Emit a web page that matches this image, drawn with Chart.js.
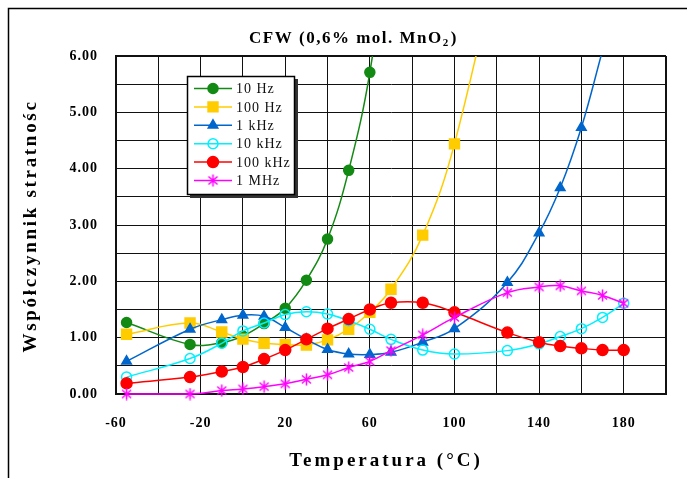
<!DOCTYPE html>
<html>
<head>
<meta charset="utf-8">
<script src="https://cdn.jsdelivr.net/npm/chart.js@4"></script>
<style>
  body { margin: 0; background: #fff; }
  #wrap { width: 687px; height: 478px; }
</style>
</head>
<body>
<div id="wrap"><canvas id="myChart"></canvas></div>
<script>
// temperatures (°C) shared by all series; values past the chart top are clipped
const temps = [-55, -25, -10, 0, 10, 20, 30, 40, 50, 60, 70, 85, 100, 125, 140, 150, 160, 170, 180];
const hz10 = [1.27, 0.88, 0.91, 1.03, 1.25, 1.52, 2.02, 2.75, 3.97, 5.71, 8.5];
const hz100 = [1.06, 1.26, 1.10, 0.975, 0.90, 0.88, 0.87, 0.96, 1.15, 1.45, 1.86, 2.82, 4.44, 8.5];
const khz1 = [0.58, 1.15, 1.32, 1.40, 1.38, 1.18, 0.97, 0.79, 0.71, 0.70, 0.74, 0.92, 1.16, 1.98, 2.86, 3.66, 4.73, 6.1];
const khz10 = [0.30, 0.63, 0.90, 1.12, 1.26, 1.41, 1.46, 1.42, 1.30, 1.15, 0.97, 0.78, 0.71, 0.77, 0.89, 1.02, 1.16, 1.36, 1.61];
const khz100 = [0.19, 0.30, 0.40, 0.48, 0.62, 0.78, 0.97, 1.16, 1.33, 1.50, 1.62, 1.62, 1.45, 1.09, 0.92, 0.85, 0.81, 0.78, 0.78];
const mhz1 = [0.00, 0.00, 0.06, 0.09, 0.13, 0.18, 0.26, 0.34, 0.47, 0.58, 0.77, 1.05, 1.36, 1.80, 1.90, 1.92, 1.83, 1.75, 1.61];

const seriesLabels = ['10 Hz', '100 Hz', '1 kHz', '10 kHz', '100 kHz', '1 MHz'];
const xTickLabels = [-60, -20, 20, 60, 100, 140, 180];
const yTickLabels = [0, 1, 2, 3, 4, 5, 6];
const xTitle = 'Temperatura (°C)';
const yTitle = 'Współczynnik stratnośc';

const serif = '"Liberation Serif", "Times New Roman", serif';

function toPoints(values) {
    return values.map((v, i) => ({ x: temps[i], y: v }));
}

// excel style asterisk marker
function makeAsterisk(color) {
    const c = document.createElement('canvas');
    c.width = 13;
    c.height = 13;
    const g = c.getContext('2d');
    g.strokeStyle = color;
    g.lineWidth = 1.5;
    g.beginPath();
    g.moveTo(6.5, 0.5); g.lineTo(6.5, 12.5);
    g.moveTo(2, 2.5); g.lineTo(11, 10.5);
    g.moveTo(11, 2.5); g.lineTo(2, 10.5);
    g.stroke();
    return c;
}
const asterisk = makeAsterisk('#ff00ff');

function series(label, values, color, style, radius, fill) {
    return {
        label: label,
        data: toPoints(values),
        borderColor: color,
        borderWidth: 1.5,
        pointStyle: style,
        pointRadius: radius,
        pointBackgroundColor: fill,
        pointBorderColor: color,
        pointBorderWidth: 1.5,
        tension: 0.4,
        clip: { left: 12, top: 0, right: 12, bottom: 12 }
    };
}

const datasets = [
    series(seriesLabels[0], hz10, '#138a13', 'circle', 5, '#138a13'),
    series(seriesLabels[1], hz100, '#ffcc00', 'rect', 7, '#ffcc00'),
    series(seriesLabels[2], khz1, '#0066cc', 'triangle', 5.5, '#0066cc'),
    series(seriesLabels[3], khz10, '#00f0ff', 'circle', 5, 'rgba(0,0,0,0)'),
    series(seriesLabels[4], khz100, '#ff0000', 'circle', 5.5, '#ff0000'),
    series(seriesLabels[5], mhz1, '#ff00ff', asterisk, 6, '#ff00ff')
];
// later series on top, like the original
datasets.forEach((ds, i) => { ds.order = datasets.length - i; });

function drawMarker(ctx, ds, x, y) {
    const r = ds.pointRadius;
    ctx.fillStyle = ds.pointBackgroundColor;
    ctx.strokeStyle = ds.pointBorderColor;
    ctx.lineWidth = ds.pointBorderWidth;
    if (ds.pointStyle instanceof HTMLCanvasElement) {
        ctx.drawImage(ds.pointStyle, x - ds.pointStyle.width / 2, y - ds.pointStyle.height / 2);
        return;
    }
    ctx.beginPath();
    if (ds.pointStyle === 'rect') {
        const s = r * Math.SQRT1_2;
        ctx.rect(x - s, y - s, 2 * s, 2 * s);
    } else if (ds.pointStyle === 'triangle') {
        ctx.moveTo(x, y - r);
        ctx.lineTo(x + Math.sin(2 * Math.PI / 3) * r, y + r / 2);
        ctx.lineTo(x - Math.sin(2 * Math.PI / 3) * r, y + r / 2);
        ctx.closePath();
    } else {
        ctx.arc(x, y, r, 0, Math.PI * 2);
    }
    ctx.fill();
    ctx.stroke();
}

const framePlugin = {
    id: 'frame',
    beforeDraw(chart) {
        const ctx = chart.ctx;
        ctx.save();
        ctx.fillStyle = '#fff';
        ctx.fillRect(0, 0, chart.width, chart.height);
        ctx.strokeStyle = '#000';
        ctx.lineWidth = 1.5;
        ctx.strokeRect(8.5, 8.5, 900, 900);
        ctx.restore();
        ctx.letterSpacing = '1px';
    }
};

// chart title, with subscript 2, and the two axis titles (letter spaced)
const titlePlugin = {
    id: 'titles',
    afterDraw(chart) {
        const ctx = chart.ctx;
        ctx.save();
        ctx.fillStyle = '#000';
        ctx.textBaseline = 'alphabetic';
        ctx.letterSpacing = '1.5px';
        ctx.font = 'bold 17px ' + serif;
        const main = 'CFW (0,6% mol. MnO';
        const wMain = ctx.measureText(main).width;
        ctx.font = 'bold 11px ' + serif;
        const wSub = ctx.measureText('2').width;
        ctx.font = 'bold 17px ' + serif;
        const wEnd = ctx.measureText(')').width;
        let x = 353 - (wMain + wSub + wEnd) / 2;
        const base = 43;
        ctx.fillText(main, x, base);
        x += wMain;
        ctx.font = 'bold 11px ' + serif;
        ctx.fillText('2', x, base + 3);
        x += wSub + 1;
        ctx.font = 'bold 17px ' + serif;
        ctx.fillText(')', x, base);

        ctx.font = 'bold 19px ' + serif;
        ctx.textAlign = 'center';
        ctx.textBaseline = 'middle';
        ctx.letterSpacing = '3px';
        ctx.fillText(xTitle, 386, 461);
        ctx.letterSpacing = '2.7px';
        ctx.translate(31, 226);
        ctx.rotate(-Math.PI / 2);
        ctx.fillText(yTitle, 0, 0);
        ctx.restore();
    }
};

const legendPlugin = {
    id: 'boxLegend',
    afterDraw(chart) {
        const ctx = chart.ctx;
        ctx.save();
        ctx.fillStyle = '#333';
        ctx.fillRect(190, 79, 108, 119);
        ctx.fillStyle = '#fff';
        ctx.fillRect(187, 76, 108, 119);
        ctx.strokeStyle = '#000';
        ctx.lineWidth = 1.5;
        ctx.strokeRect(187.5, 76.5, 107, 118);
        chart.data.datasets.forEach((ds, i) => {
            const y = 88.5 + i * 18.4;
            ctx.strokeStyle = ds.borderColor;
            ctx.lineWidth = 1.5;
            ctx.beginPath();
            ctx.moveTo(194, y);
            ctx.lineTo(232, y);
            ctx.stroke();
            drawMarker(ctx, ds, 213, y);
            ctx.fillStyle = '#111';
            ctx.font = '14px ' + serif;
            ctx.letterSpacing = '1px';
            ctx.textBaseline = 'middle';
            ctx.fillText(ds.label, 236, y + 1);
        });
        ctx.restore();
    }
};

function frameWidth(ctx, max) {
    return ctx.tick && ctx.tick.value === max ? 2 : 1;
}

const ctx = document.getElementById('myChart').getContext('2d');
const myChart = new Chart(ctx, {
    type: 'line',
    data: { datasets: datasets },
    options: {
        responsive: true,
        maintainAspectRatio: false,
        animation: false,
        layout: { padding: { top: 56, right: 20, bottom: 0, left: 0 } },
        plugins: {
            legend: { display: false },
            title: { display: false },
            tooltip: { enabled: false }
        },
        scales: {
            x: {
                type: 'linear',
                min: -60,
                max: 200,
                afterFit: (scale) => { scale.height = 84; },
                afterBuildTicks: (scale) => {
                    scale.ticks = [];
                    for (let v = -60; v <= 200; v += 20) scale.ticks.push({ value: v });
                },
                ticks: {
                    autoSkip: false,
                    maxRotation: 0,
                    padding: 21,
                    color: '#000',
                    font: { family: serif, size: 14, weight: 'bold' },
                    callback: (v) => xTickLabels.includes(v) ? String(v) : ''
                },
                grid: {
                    color: '#111',
                    lineWidth: (c) => frameWidth(c, 200),
                    drawTicks: false
                },
                border: { color: '#111', width: 2 }
            },
            y: {
                min: 0,
                max: 6,
                afterFit: (scale) => { scale.width = 116; },
                afterBuildTicks: (scale) => {
                    scale.ticks = [];
                    for (let v = 0; v <= 6; v += 0.5) scale.ticks.push({ value: v });
                },
                ticks: {
                    autoSkip: false,
                    padding: 18,
                    color: '#000',
                    font: { family: serif, size: 14, weight: 'bold' },
                    callback: (v) => yTickLabels.includes(v) ? v.toFixed(2) : ''
                },
                grid: {
                    color: '#111',
                    lineWidth: (c) => frameWidth(c, 6),
                    drawTicks: false
                },
                border: { color: '#111', width: 2 }
            }
        }
    },
    plugins: [framePlugin, titlePlugin, legendPlugin]
});
</script>
</body>
</html>
